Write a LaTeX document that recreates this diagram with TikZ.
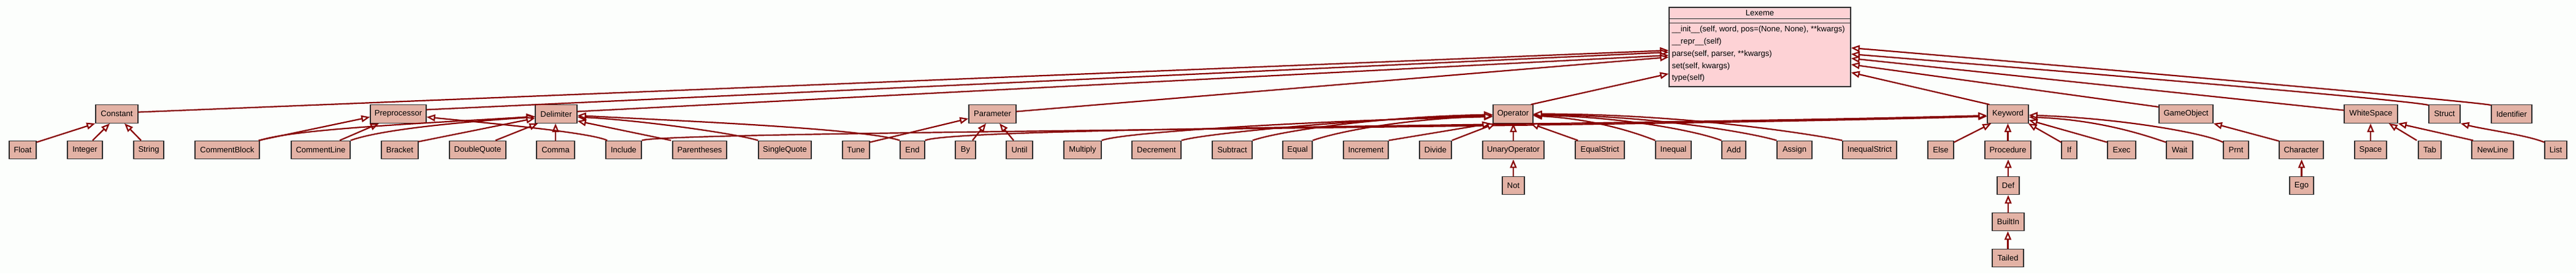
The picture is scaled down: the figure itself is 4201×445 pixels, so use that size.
\documentclass[tikz,border=0pt]{standalone}
\usepackage{fontspec}
\setmainfont{Liberation Sans}
\usetikzlibrary{arrows.meta,calc}
\definecolor{bgc}{RGB}{252,254,252}
\definecolor{boxfill}{RGB}{227,178,165}
\definecolor{lexfill}{RGB}{253,210,213}
\definecolor{boxline}{RGB}{45,45,45}
\definecolor{edgered}{RGB}{135,0,0}
\begin{document}
\begin{tikzpicture}[x=1pt,y=-1pt,
 cls/.style={draw=boxline, fill=boxfill, line width=1.4pt, minimum height=29.5pt, inner sep=0pt, font=\fontsize{13}{15}\selectfont},
 inh/.style={draw=edgered, line width=2.2pt, -{Triangle[length=14pt,width=11pt,fill=white]}},
 txt/.style={inner sep=0pt, font=\fontsize{13}{15}\selectfont}]
\useasboundingbox (0,0) rectangle (4201,445);
\fill[bgc] (0,0) rectangle (4201,445);

% Lexeme
\node[draw=boxline, fill=lexfill, line width=1.4pt, minimum width=296pt, minimum height=129pt, inner sep=0pt] (lex) at (2870,76.5) {};
\node[txt] (lextitle) at (2870,21.5) {Lexeme};
\draw[draw=boxline, line width=1.4pt] ($(lex.north west)+(0,19)$) -- ($(lex.north east)+(0,19)$);
\draw[draw=boxline, line width=1.4pt] ($(lex.north west)+(0,26)$) -- ($(lex.north east)+(0,26)$);
\node[txt, anchor=west] (m1) at ($(lex.north west)+(5,37)$) {\_\_init\_\_(self, word, pos=(None, None), **kwargs)};
\node[txt, anchor=west] (m2) at ($(lex.north west)+(5,57)$) {\_\_repr\_\_(self)};
\node[txt, anchor=west] (m3) at ($(lex.north west)+(5,77)$) {parse(self, parser, **kwargs)};
\node[txt, anchor=west] (m4) at ($(lex.north west)+(5,97)$) {set(self, kwargs)};
\node[txt, anchor=west] (m5) at ($(lex.north west)+(5,116)$) {type(self)};

% Row 1
\node[cls, minimum width=69pt] (constant) at (190.5,185.5) {Constant};
\node[cls, minimum width=91pt] (prep) at (649.5,185.5) {Preprocessor};
\node[cls, minimum width=68pt] (delim) at (907,185.5) {Delimiter};
\node[cls, minimum width=77pt] (param) at (1618.5,185.5) {Parameter};
\node[cls, minimum width=65pt] (oper) at (2467.5,185.5) {Operator};
\node[cls, minimum width=67pt] (kw) at (3274.5,185.5) {Keyword};
\node[cls, minimum width=88pt] (gobj) at (3565,185.5) {GameObject};
\node[cls, minimum width=87pt] (ws) at (3866.5,185.5) {WhiteSpace};
\node[cls, minimum width=51pt] (struct) at (3986.5,185.5) {Struct};
\node[cls, minimum width=66pt] (ident) at (4096,185.5) {Identifier};

% Row 2
\node[cls, minimum width=44pt] (float) at (37,244) {Float};
\node[cls, minimum width=57pt] (integer) at (138.5,244) {Integer};
\node[cls, minimum width=49pt] (string) at (242.5,244) {String};
\node[cls, minimum width=105pt] (cblock) at (370.5,244) {CommentBlock};
\node[cls, minimum width=96pt] (cline) at (523,244) {CommentLine};
\node[cls, minimum width=60pt] (bracket) at (652,244) {Bracket};
\node[cls, minimum width=92pt] (dq) at (779,244) {DoubleQuote};
\node[cls, minimum width=62pt] (comma) at (906,244) {Comma};
\node[cls, minimum width=58pt] (include) at (1017,244) {Include};
\node[cls, minimum width=88pt] (paren) at (1141,244) {Parentheses};
\node[cls, minimum width=86pt] (sq) at (1280,244) {SingleQuote};
\node[cls, minimum width=44pt] (tune) at (1396,244) {Tune};
\node[cls, minimum width=40pt] (end) at (1488,244) {End};
\node[cls, minimum width=33pt] (by) at (1574.5,244) {By};
\node[cls, minimum width=43pt] (until) at (1662.5,244) {Until};
\node[cls, minimum width=61pt] (mult) at (1765.5,244) {Multiply};
\node[cls, minimum width=80pt] (decr) at (1886,244) {Decrement};
\node[cls, minimum width=65pt] (sub) at (2009.5,244) {Subtract};
\node[cls, minimum width=48pt] (equal) at (2116,244) {Equal};
\node[cls, minimum width=73pt] (incr) at (2227.5,244) {Increment};
\node[cls, minimum width=52pt] (divide) at (2341,244) {Divide};
\node[cls, minimum width=100pt] (unary) at (2468,244) {UnaryOperator};
\node[cls, minimum width=80pt] (eqs) at (2609,244) {EqualStrict};
\node[cls, minimum width=58pt] (ineq) at (2729,244) {Inequal};
\node[cls, minimum width=39pt] (add) at (2827.5,244) {Add};
\node[cls, minimum width=57pt] (assign) at (2926.5,244) {Assign};
\node[cls, minimum width=88pt] (ineqs) at (3049,244) {InequalStrict};
\node[cls, minimum width=42pt] (else) at (3165,244) {Else};
\node[cls, minimum width=75pt] (proc) at (3274.5,244) {Procedure};
\node[cls, minimum width=25pt] (if) at (3374.5,244) {If};
\node[cls, minimum width=46pt] (exec) at (3460,244) {Exec};
\node[cls, minimum width=43pt] (wait) at (3554.5,244) {Wait};
\node[cls, minimum width=41pt] (prnt) at (3646.5,244) {Prnt};
\node[cls, minimum width=72pt] (char) at (3753,244) {Character};
\node[cls, minimum width=52pt] (space) at (3866,244) {Space};
\node[cls, minimum width=37pt] (tab) at (3962.5,244) {Tab};
\node[cls, minimum width=68pt] (nl) at (4065,244) {NewLine};
\node[cls, minimum width=36pt] (list) at (4168,244) {List};

% Rows 3-5
\node[cls, minimum width=36pt] (not) at (2468,302) {Not};
\node[cls, minimum width=36pt] (def) at (3275,302) {Def};
\node[cls, minimum width=39pt] (ego) at (3753.5,302) {Ego};
\node[cls, minimum width=52pt] (builtin) at (3275,361) {BuiltIn};
\node[cls, minimum width=51pt] (tailed) at (3274.5,420) {Tailed};

% edges to Lexeme
\draw[inh] ($(constant.east)+(0,-3)$) -- ($(lex.west)+(0,5.5)$);
\draw[inh] ($(prep.east)+(0,-7)$) -- ($(lex.west)+(0,8.5)$);
\draw[inh] ($(delim.east)+(0,-4)$) -- ($(lex.west)+(0,13.5)$);
\draw[inh] ($(param.east)+(0,-4)$) -- ($(lex.west)+(0,16.5)$);
\draw[inh] ($(oper.north east)+(-4,0)$) -- ($(lex.west)+(0,43.5)$);
\draw[inh] ($(kw.north west)+(4,0)$) -- ($(lex.east)+(0,41.5)$);
\draw[inh] ($(gobj.north west)+(0,4)$) -- ($(lex.east)+(0,28.5)$);
\draw[inh] ($(ws.west)+(0,-6)$) -- ($(lex.east)+(0,18.5)$);
\draw[inh] ($(struct.north west)+(0,1)$) .. controls +(-40,-10) and +(100,8) .. ($(lex.east)+(0,11.5)$);
\draw[inh] ($(ident.north west)+(0,1)$) .. controls +(-40,-8) and +(100,8) .. ($(lex.east)+(0,1.5)$);

% Constant
\draw[inh] ($(float.north east)+(0,3)$) -- (constant.south west);
\draw[inh] ($(integer.north)+(12.5,0)$) -- ($(constant.south)+(-11.5,0)$);
\draw[inh] ($(string.north)+(-12.5,0)$) -- ($(constant.south)+(12.5,0)$);

% Preprocessor / Delimiter
\draw[inh] ($(cblock.north east)+(-2,0)$) -- ($(prep.west)+(0,5)$);
\draw[inh] ($(cline.north)+(31,0)$) -- ($(prep.south)+(-31.5,0)$);
\draw[inh] (cblock.north east) .. controls +(60,-20) and +(-150,10) .. ($(delim.west)+(0,4)$);
\draw[inh] (cline.north east) .. controls +(50,-18) and +(-120,8) .. ($(delim.west)+(0,5)$);
\draw[inh] ($(bracket.north east)+(0,2)$) -- ($(delim.west)+(0,7)$);
\draw[inh] ($(dq.north)+(29,0)$) -- ($(delim.south west)+(5,0)$);
\draw[inh] (comma.north) -- (comma.north |- delim.south);
\draw[inh] ($(include.north west)+(3,0)$) .. controls +(-30,-14) and +(80,8) .. ($(prep.east)+(0,5)$);
\draw[inh] (include.north east) .. controls +(40,-15) and +(-700,20) .. ($(kw.west)+(0,4)$);
\draw[inh] ($(paren.north west)+(-2,0)$) -- ($(delim.south east)+(0,-4)$);
\draw[inh] (sq.north west) .. controls +(-40,-12) and +(100,5) .. ($(delim.east)+(0,5)$);
\draw[inh] (end.north west) .. controls +(-60,-20) and +(150,8) .. ($(delim.east)+(0,2.5)$);
\draw[inh] (end.north east) .. controls +(52,-22) and +(-641,17) .. ($(kw.west)+(0,2.5)$);

% Parameter
\draw[inh] ($(tune.north east)+(0,3)$) -- ($(param.west)+(0,7.5)$);
\draw[inh] ($(by.north)+(11.5,0)$) -- ($(param.south)+(-10.5,0)$);
\draw[inh] ($(until.north)+(-9.5,0)$) -- ($(param.south)+(11.5,0)$);

% Operator
\draw[inh] (mult.north east) .. controls +(40,-15) and +(-250,5) .. ($(oper.west)+(0,4.5)$);
\draw[inh] (decr.north east) .. controls +(40,-12) and +(-200,4) .. ($(oper.west)+(0,2.5)$);
\draw[inh] (sub.north east) .. controls +(40,-14) and +(-200,4) .. ($(oper.west)+(0,1)$);
\draw[inh] (equal.north east) .. controls +(40,-14) and +(-150,5) .. ($(oper.west)+(0,3.5)$);
\draw[inh] (incr.north east) -- ($(oper.south west)+(-3,0)$);
\draw[inh] (divide.north east) -- ($(oper.south west)+(5,0)$);
\draw[inh] (unary.north) -- (unary.north |- oper.south);
\draw[inh] ($(eqs.north west)+(5,0)$) -- ($(oper.south east)+(-5,0)$);
\draw[inh] (ineq.north west) .. controls +(-30,-12) and +(100,5) .. ($(oper.east)+(0,3)$);
\draw[inh] (add.north west) .. controls +(-40,-15) and +(150,3) .. ($(oper.east)+(0,2)$);
\draw[inh] (assign.north west) .. controls +(-40,-12) and +(200,2) .. ($(oper.east)+(0,1)$);
\draw[inh] (ineqs.north west) .. controls +(-50,-10) and +(250,0) .. ($(oper.east)+(0,0)$);

% Keyword
\draw[inh] ($(else.north east)+(0,3)$) -- ($(kw.south west)+(7,0)$);
\draw[inh] (proc.north) -- (proc.north |- kw.south);
\draw[inh] ($(if.north west)+(0,3)$) -- ($(kw.south east)+(-1,0)$);
\draw[inh] ($(exec.north west)+(0,3)$) -- ($(kw.east)+(0,10)$);
\draw[inh] ($(wait.north west)+(0,3)$) .. controls +(-30,-10) and +(120,5) .. ($(kw.east)+(0,5)$);
\draw[inh] ($(prnt.north west)+(0,3)$) .. controls +(-30,-15) and +(150,5) .. ($(kw.east)+(0,2)$);

% chains and others
\draw[inh] (not.north) -- (not.north |- unary.south);
\draw[inh] (def.north) -- (def.north |- proc.south);
\draw[inh] (builtin.north) -- (builtin.north |- def.south);
\draw[inh] (tailed.north) -- (tailed.north |- builtin.south);
\draw[inh] ($(char.north west)+(0,1)$) -- (gobj.south east);
\draw[inh] (ego.north) -- (ego.north |- char.south);
\draw[inh] (space.north) -- (space.north |- ws.south);
\draw[inh] ($(tab.north west)+(-2,0)$) -- ($(ws.south east)+(-15,0)$);
\draw[inh] ($(nl.north west)+(3,0)$) -- (ws.south east);
\draw[inh] ($(list.north west)+(0,3)$) .. controls +(-30,-12) and +(40,10) .. (struct.south east);
\end{tikzpicture}
\end{document}
